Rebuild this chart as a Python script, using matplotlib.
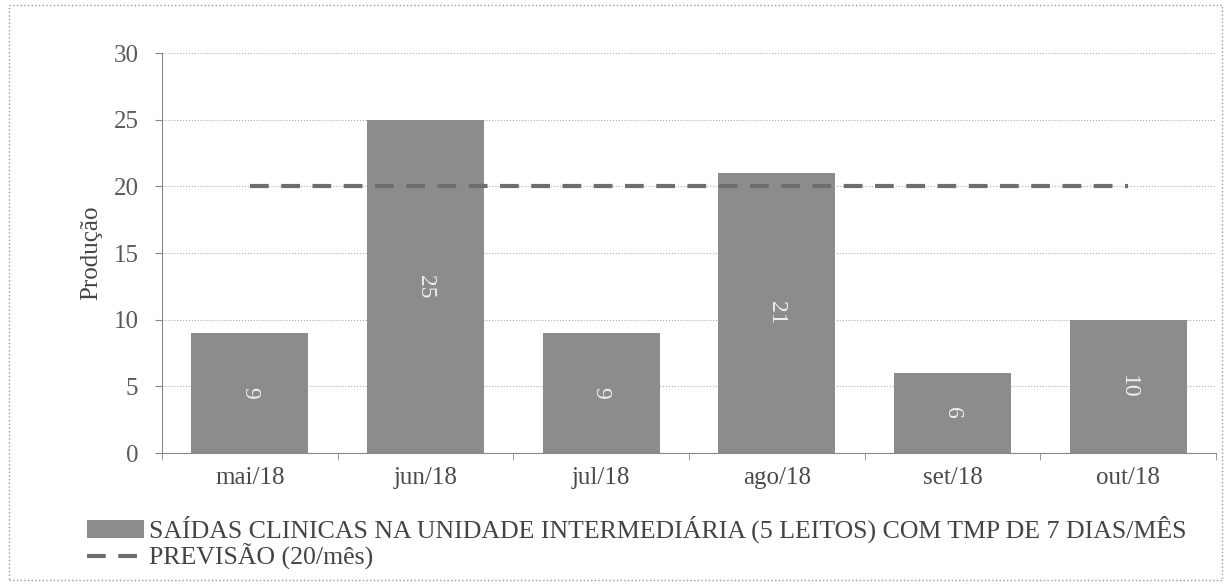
import matplotlib.pyplot as plt
from matplotlib.patches import Rectangle

plt.rcParams['font.family'] = ['Liberation Serif', 'DejaVu Serif']

meses = ["mai/18", "jun/18", "jul/18", "ago/18", "set/18", "out/18"]
saidas = [9, 25, 9, 21, 6, 10]
previsao = [20, 20, 20, 20, 20, 20]

fig = plt.figure(figsize=(12.31, 5.85), dpi=100)
ax = fig.add_axes([0.1316, 0.2256, 0.8562, 0.6838])

x = range(len(meses))
bars = ax.bar(x, saidas, width=0.667, color="#8c8c8c", zorder=2,
              label="SAÍDAS CLINICAS NA UNIDADE INTERMEDIÁRIA (5 LEITOS) COM TMP DE 7 DIAS/MÊS")
linha, = ax.plot(x, previsao, color="#6e6e6e", linewidth=3, dashes=(4.5, 3),
                 solid_capstyle="butt", zorder=3, label="PREVISÃO (20/mês)")

for xi, v in zip(x, saidas):
    ax.text(xi, v / 2, str(v), rotation=-90, ha="center", va="center",
            color="#f0f0f0", fontsize=17, zorder=4)

ax.set_xlim(-0.5, len(meses) - 0.5)
ax.set_ylim(0, 30)
ax.set_yticks(range(0, 31, 5))
ax.set_xticks(x)
ax.set_xticklabels(meses)
ax.set_xticks([i + 0.5 for i in range(-1, len(meses))], minor=True)
ax.tick_params(axis="x", which="major", length=0, labelsize=18, colors="#4a4a4a", pad=10)
ax.tick_params(axis="x", which="minor", length=5, color="#888888")
ax.tick_params(axis="y", length=5, color="#888888", labelsize=18, labelcolor="#5a5a5a", pad=12)
ax.grid(axis="y", linestyle=":", color="#aaaaaa", linewidth=0.8, zorder=0)
for s in ["top", "right"]:
    ax.spines[s].set_visible(False)
for s in ["left", "bottom"]:
    ax.spines[s].set_color("#888888")
ax.set_ylabel("Produção", fontsize=18, color="#444444", labelpad=8)

fig.legend(handles=[bars, linha], loc="upper left", bbox_to_anchor=(0.071, 0.118),
           frameon=False, fontsize=18.6, handlelength=2.2, handletextpad=0.2,
           labelspacing=0.02, labelcolor="#444444", borderaxespad=0, borderpad=0)

fig.patches.append(Rectangle((0.007, 0.008), 0.986, 0.984, transform=fig.transFigure,
                             fill=False, edgecolor="#999999", linestyle=":", linewidth=1))

fig.savefig("out.png", dpi=100)
